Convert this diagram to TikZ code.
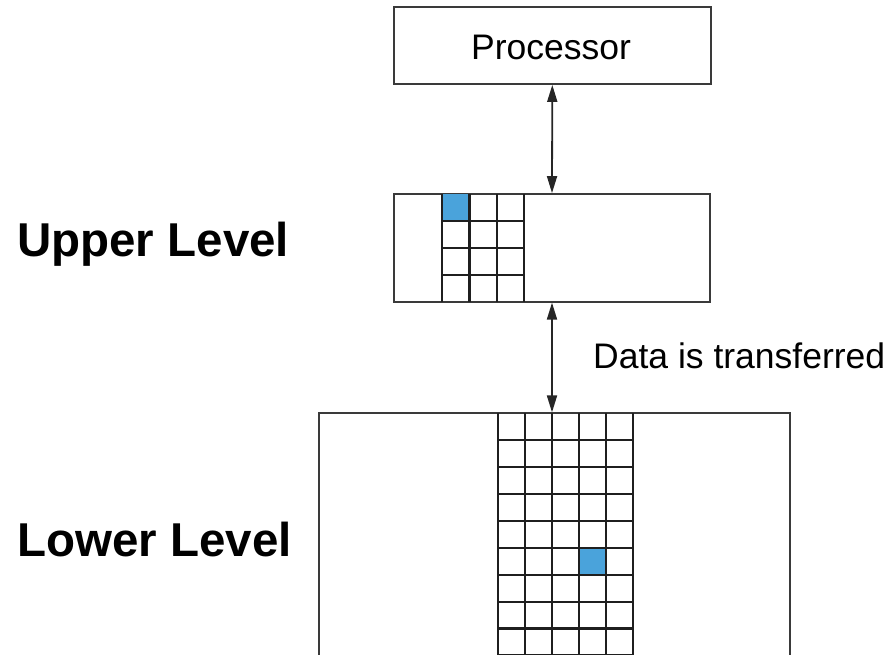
\documentclass[tikz,border=0pt]{standalone}
\usepackage{fontspec}
\setmainfont{Liberation Sans}
\usetikzlibrary{arrows.meta}
\definecolor{edge}{HTML}{3A3A3A}
\definecolor{cellblue}{HTML}{4AA3DB}
\tikzset{
  levelbox/.style={draw=edge, line width=1.8pt, rectangle, inner sep=0pt},
  gridline/.style={draw=black!88, line width=2.2pt},
  link/.style={draw=black!85, line width=1.8pt, {Triangle[length=17pt,width=10pt]}-{Triangle[length=17pt,width=10pt]}},
  plain/.style={font=\fontsize{35.5}{40}\selectfont, inner sep=0pt},
  heading/.style={font=\fontsize{47.5}{52}\selectfont\bfseries, inner sep=0pt, anchor=base west}
}
\begin{document}
\begin{tikzpicture}[x=1pt,y=-1pt]
\useasboundingbox (0,0) rectangle (892,654);
\clip (0,0) rectangle (892,654);

% processor and the two memory levels
\node[levelbox, minimum width=316.7pt, minimum height=77pt] (processor) at (552.3,45.5) {};
\node[plain, anchor=base] (proclabel) at (551,59.5) {Processor};
\node[levelbox, minimum width=316pt, minimum height=107.7pt] (upper) at (552,247.85) {};
\node[levelbox, minimum width=471pt, minimum height=300pt] (lower) at (554.5,563.3) {};

% blocks in the upper level: 3 x 4
\fill[cellblue] (442.3,194) rectangle (469.5,221);
\foreach \i in {0,...,3} \draw[gridline] ({442.3+27.2*\i},194) -- ({442.3+27.2*\i},301.7);
\foreach \j in {1,...,3} \draw[gridline] (442.3,{194+26.9*\j}) -- (523.9,{194+26.9*\j});

% blocks in the lower level: 5 columns, running off the bottom
\fill[cellblue] (579.1,547.8) rectangle (606,574.7);
\foreach \i in {0,...,5} \draw[gridline] ({498.3+26.88*\i},413.3) -- ({498.3+26.88*\i},680);
\foreach \j in {1,...,9} \draw[gridline] (498.3,{413.3+26.9*\j}) -- (632.7,{413.3+26.9*\j});
\draw[levelbox] (lower.north west) -- (lower.north east);

% transfers between levels
\coordinate (lowtop) at (upper.south |- lower.north);
\draw[link] (processor.south) -- (upper.north);
\draw[link] (upper.south) -- (lowtop);

% labels
\node[plain, anchor=base west] (xfer) at (593,368) {Data is transferred};
\node[heading] (upperlabel) at (17,256) {Upper Level};
\node[heading] (lowerlabel) at (17,556) {Lower Level};
\end{tikzpicture}
\end{document}
